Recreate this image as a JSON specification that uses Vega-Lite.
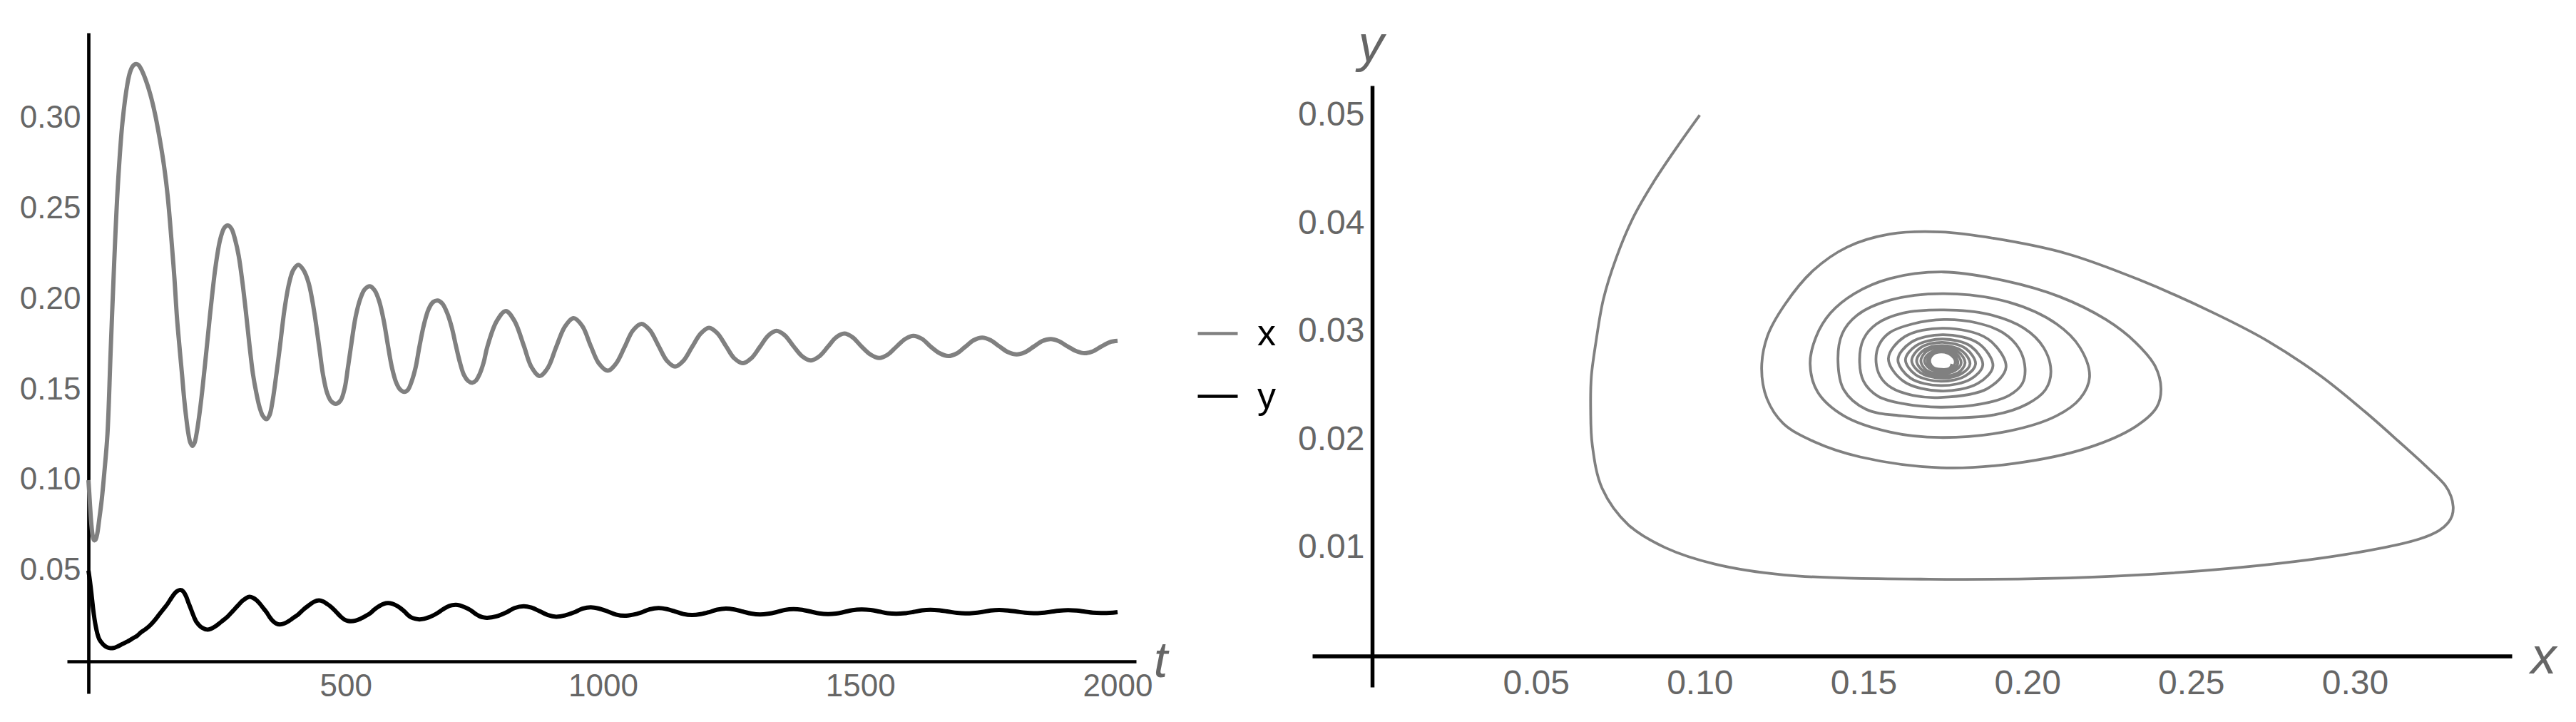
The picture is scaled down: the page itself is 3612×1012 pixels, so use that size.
{
"$schema": "https://vega.github.io/schema/vega-lite/v6.json",
"width": 3612, "height": 1012,
"autosize": {"type": "none"},
"padding": 0,
"background": "white",
"config": {"view": {"stroke": null}, "font": "Liberation Sans",
  "axis": {"grid": false, "ticks": false, "tickSize": 0, "domainColor": "black", "labelColor": "#666666", "labelFont": "Liberation Sans", "titleFont": "Liberation Sans", "titleColor": "#666666", "titleFontStyle": "italic", "titleFontWeight": "normal", "labelFlush": false, "labelOverlap": false}},
"data": {"values": [
{"t":0,"x":0.1000,"y":0.0500},{"t":1.5,"x":0.0934,"y":0.0472},{"t":3,"x":0.0863,"y":0.0440},{"t":4.5,"x":0.0798,"y":0.0406},
{"t":6,"x":0.0745,"y":0.0368},{"t":7.5,"x":0.0706,"y":0.0330},{"t":9,"x":0.0683,"y":0.0290},{"t":10.5,"x":0.0669,"y":0.0258},
{"t":12,"x":0.0667,"y":0.0228},{"t":14,"x":0.0672,"y":0.0195},{"t":17,"x":0.0702,"y":0.0155},{"t":21,"x":0.0783,"y":0.0121},
{"t":26,"x":0.0896,"y":0.0100},{"t":31,"x":0.1046,"y":0.0085},{"t":37,"x":0.1257,"y":0.0075},{"t":43,"x":0.1700,"y":0.0071},
{"t":50,"x":0.2200,"y":0.0073},{"t":57,"x":0.2620,"y":0.0081},{"t":66,"x":0.2975,"y":0.0094},{"t":76,"x":0.3195,"y":0.0108},
{"t":81,"x":0.3257,"y":0.0116},{"t":85,"x":0.3284,"y":0.0123},{"t":89,"x":0.3297,"y":0.0130},{"t":94,"x":0.3300,"y":0.0138},
{"t":98,"x":0.3293,"y":0.0148},{"t":102,"x":0.3275,"y":0.0158},{"t":111,"x":0.3215,"y":0.0176},{"t":120,"x":0.3135,"y":0.0198},
{"t":129,"x":0.3030,"y":0.0226},{"t":138,"x":0.2895,"y":0.0259},{"t":147,"x":0.2735,"y":0.0291},{"t":154,"x":0.2570,"y":0.0317},
{"t":161,"x":0.2340,"y":0.0348},{"t":167,"x":0.2120,"y":0.0372},{"t":172,"x":0.1900,"y":0.0386},{"t":177,"x":0.1735,"y":0.0392},
{"t":182,"x":0.1580,"y":0.0390},{"t":186,"x":0.1450,"y":0.0378},{"t":190,"x":0.1345,"y":0.0356},{"t":194,"x":0.1260,"y":0.0325},
{"t":198,"x":0.1207,"y":0.0296},{"t":202,"x":0.1189,"y":0.0266},{"t":206,"x":0.1205,"y":0.0238},{"t":210,"x":0.1255,"y":0.0215},
{"t":215,"x":0.1350,"y":0.0198},{"t":221,"x":0.1490,"y":0.0184},{"t":230,"x":0.1736,"y":0.0174},{"t":238,"x":0.1960,"y":0.0178},
{"t":247,"x":0.2180,"y":0.0192},{"t":256,"x":0.2330,"y":0.0212},{"t":264,"x":0.2395,"y":0.0230},{"t":271,"x":0.2408,"y":0.0247},
{"t":278,"x":0.2390,"y":0.0268},{"t":285,"x":0.2330,"y":0.0290},{"t":292,"x":0.2240,"y":0.0311},{"t":299,"x":0.2100,"y":0.0332},
{"t":306,"x":0.1930,"y":0.0347},{"t":313,"x":0.1745,"y":0.0355},{"t":320,"x":0.1581,"y":0.0349},{"t":327,"x":0.1472,"y":0.0335},
{"t":333,"x":0.1399,"y":0.0317},{"t":339,"x":0.1355,"y":0.0295},{"t":346,"x":0.1337,"y":0.0270},{"t":352,"x":0.1360,"y":0.0244},
{"t":358,"x":0.1440,"y":0.0222},{"t":365,"x":0.1581,"y":0.0207},{"t":372,"x":0.1735,"y":0.0202},{"t":381,"x":0.1944,"y":0.0208},
{"t":390,"x":0.2089,"y":0.0222},{"t":398,"x":0.2161,"y":0.0238},{"t":408,"x":0.2190,"y":0.0258},{"t":418,"x":0.2161,"y":0.0285},
{"t":428,"x":0.2089,"y":0.0307},{"t":438,"x":0.1944,"y":0.0327},{"t":448,"x":0.1745,"y":0.0335},{"t":456,"x":0.1581,"y":0.0329},
{"t":464,"x":0.1480,"y":0.0315},{"t":472,"x":0.1435,"y":0.0298},{"t":481,"x":0.1422,"y":0.0273},{"t":490,"x":0.1440,"y":0.0246},
{"t":498,"x":0.1508,"y":0.0228},{"t":504,"x":0.1617,"y":0.0222},{"t":510,"x":0.1735,"y":0.0220},{"t":519,"x":0.1900,"y":0.0223},
{"t":528,"x":0.2000,"y":0.0233},{"t":537,"x":0.2055,"y":0.0246},{"t":547,"x":0.2072,"y":0.0263},{"t":556,"x":0.2050,"y":0.0285},
{"t":565,"x":0.1990,"y":0.0303},{"t":574,"x":0.1880,"y":0.0316},{"t":582,"x":0.1745,"y":0.0320},{"t":590,"x":0.1620,"y":0.0317},
{"t":598,"x":0.1540,"y":0.0307},{"t":606,"x":0.1500,"y":0.0293},{"t":614,"x":0.1488,"y":0.0274},{"t":621,"x":0.1500,"y":0.0254},
{"t":628,"x":0.1545,"y":0.0240},{"t":636,"x":0.1625,"y":0.0233},{"t":643,"x":0.1735,"y":0.0230},{"t":652,"x":0.1860,"y":0.0233},
{"t":661,"x":0.1945,"y":0.0241},{"t":670,"x":0.1985,"y":0.0252},{"t":679,"x":0.1993,"y":0.0266},{"t":688,"x":0.1975,"y":0.0284},
{"t":697,"x":0.1925,"y":0.0299},{"t":706,"x":0.1845,"y":0.0308},{"t":714,"x":0.1745,"y":0.0311},{"t":722,"x":0.1650,"y":0.0307},
{"t":730,"x":0.1580,"y":0.0299},{"t":738,"x":0.1548,"y":0.0288},{"t":746,"x":0.1538,"y":0.0274},{"t":753,"x":0.1550,"y":0.0259},
{"t":760,"x":0.1585,"y":0.0248},{"t":768,"x":0.1650,"y":0.0241},{"t":775,"x":0.1735,"y":0.0239},{"t":793,"x":0.1877,"y":0.0247},
{"t":811,"x":0.1935,"y":0.0267},{"t":828,"x":0.1880,"y":0.0293},{"t":846,"x":0.1744,"y":0.0303},{"t":861,"x":0.1625,"y":0.0295},
{"t":877,"x":0.1576,"y":0.0275},{"t":893,"x":0.1622,"y":0.0254},{"t":909,"x":0.1736,"y":0.0245},{"t":926,"x":0.1849,"y":0.0252},
{"t":943,"x":0.1895,"y":0.0268},{"t":960,"x":0.1851,"y":0.0289},{"t":976,"x":0.1743,"y":0.0297},{"t":992,"x":0.1645,"y":0.0290},
{"t":1009,"x":0.1605,"y":0.0274},{"t":1025,"x":0.1643,"y":0.0257},{"t":1042,"x":0.1736,"y":0.0250},{"t":1058,"x":0.1827,"y":0.0256},
{"t":1075,"x":0.1864,"y":0.0269},{"t":1091,"x":0.1829,"y":0.0286},{"t":1108,"x":0.1742,"y":0.0293},{"t":1124,"x":0.1661,"y":0.0287},
{"t":1140,"x":0.1628,"y":0.0274},{"t":1156,"x":0.1659,"y":0.0260},{"t":1173,"x":0.1736,"y":0.0254},{"t":1190,"x":0.1811,"y":0.0259},
{"t":1206,"x":0.1842,"y":0.0270},{"t":1222,"x":0.1813,"y":0.0284},{"t":1239,"x":0.1741,"y":0.0290},{"t":1255,"x":0.1674,"y":0.0285},
{"t":1272,"x":0.1647,"y":0.0273},{"t":1288,"x":0.1673,"y":0.0262},{"t":1305,"x":0.1737,"y":0.0257},{"t":1321,"x":0.1799,"y":0.0261},
{"t":1337,"x":0.1825,"y":0.0270},{"t":1353,"x":0.1801,"y":0.0282},{"t":1370,"x":0.1741,"y":0.0287},{"t":1387,"x":0.1685,"y":0.0283},
{"t":1404,"x":0.1662,"y":0.0273},{"t":1420,"x":0.1684,"y":0.0263},{"t":1437,"x":0.1737,"y":0.0259},{"t":1453,"x":0.1789,"y":0.0262},
{"t":1469,"x":0.1810,"y":0.0271},{"t":1485,"x":0.1790,"y":0.0281},{"t":1502,"x":0.1740,"y":0.0285},{"t":1520,"x":0.1694,"y":0.0282},
{"t":1537,"x":0.1675,"y":0.0273},{"t":1553,"x":0.1693,"y":0.0264},{"t":1570,"x":0.1737,"y":0.0261},{"t":1587,"x":0.1780,"y":0.0264},
{"t":1603,"x":0.1798,"y":0.0271},{"t":1620,"x":0.1781,"y":0.0280},{"t":1636,"x":0.1740,"y":0.0283},{"t":1654,"x":0.1702,"y":0.0280},
{"t":1671,"x":0.1686,"y":0.0273},{"t":1688,"x":0.1701,"y":0.0266},{"t":1704,"x":0.1737,"y":0.0263},{"t":1720,"x":0.1773,"y":0.0265},
{"t":1737,"x":0.1788,"y":0.0271},{"t":1753,"x":0.1774,"y":0.0279},{"t":1770,"x":0.1740,"y":0.0282},{"t":1787,"x":0.1708,"y":0.0279},
{"t":1804,"x":0.1695,"y":0.0273},{"t":1820,"x":0.1707,"y":0.0267},{"t":1837,"x":0.1738,"y":0.0264},{"t":1853,"x":0.1768,"y":0.0266},
{"t":1870,"x":0.1780,"y":0.0272},{"t":1886,"x":0.1768,"y":0.0278},{"t":1903,"x":0.1739,"y":0.0281},{"t":1920,"x":0.1713,"y":0.0279},
{"t":1936,"x":0.1702,"y":0.0273},{"t":1952,"x":0.1712,"y":0.0267},{"t":1968,"x":0.1738,"y":0.0265},{"t":1985,"x":0.1763,"y":0.0266},
{"t":2000,"x":0.1770,"y":0.0270}
]},
"layer": [
  {
    "transform": [{"fold": ["x", "y"], "as": ["series", "value"]}],
    "mark": {"type": "line", "strokeWidth": 6, "interpolate": "catmull-rom"},
    "encoding": {
      "x": {"field": "t", "type": "quantitative",
        "scale": {"domain": [-41.6, 2036], "range": [94, 1593], "nice": false, "zero": false},
        "axis": {"orient": "bottom", "offset": -85, "values": [500, 1000, 1500, 2000], "format": "d",
          "labelFontSize": 44, "labelPadding": 13, "domainWidth": 4.7,
          "title": "t", "titleFontSize": 70, "titleX": 1627, "titleY": 21, "titleAlign": "center", "titleBaseline": "alphabetic"}},
      "y": {"field": "value", "type": "quantitative",
        "scale": {"domain": [-0.01795, 0.3473], "range": [972, 46], "nice": false, "zero": false},
        "axis": {"orient": "left", "offset": -124, "values": [0.05, 0.1, 0.15, 0.2, 0.25, 0.3], "format": ".2f",
          "labelFontSize": 44, "labelPadding": 11, "domainWidth": 4.7, "title": null}},
      "color": {"field": "series", "type": "nominal",
        "scale": {"domain": ["x", "y"], "range": ["#808080", "#000000"]},
        "legend": {"orient": "none", "legendX": 1677, "legendY": 437, "title": null, "padding": 0,
          "symbolType": "stroke", "symbolSize": 3136, "symbolStrokeWidth": 4.7,
          "labelFontSize": 52, "labelColor": "#000000", "labelFont": "Liberation Sans", "labelOffset": 25, "rowPadding": 31}}
    }
  },
  {
    "mark": {"type": "line", "strokeWidth": 3.8, "interpolate": "catmull-rom", "color": "#808080"},
    "encoding": {
      "x": {"field": "x", "type": "quantitative",
        "scale": {"domain": [-0.01829, 0.3479], "range": [1840, 3522], "nice": false, "zero": false},
        "axis": {"orient": "bottom", "offset": -92.5, "values": [0.05, 0.1, 0.15, 0.2, 0.25, 0.3], "format": ".2f",
          "labelFontSize": 48, "labelPadding": 14.5, "domainWidth": 5.5,
          "title": "x", "titleFontSize": 72, "titleX": 3566, "titleY": 23.5, "titleAlign": "center", "titleBaseline": "alphabetic"}},
      "y": {"field": "y", "type": "quantitative",
        "scale": {"domain": [-0.00287, 0.05273], "range": [963, 120], "nice": false, "zero": false},
        "axis": {"orient": "left", "offset": -1924, "values": [0.01, 0.02, 0.03, 0.04, 0.05], "format": ".2f",
          "labelFontSize": 48, "labelPadding": 11, "domainWidth": 5.5,
          "title": "y", "titleAngle": 0, "titleFontSize": 72, "titleX": -2, "titleY": 85, "titleAlign": "center", "titleBaseline": "alphabetic"}},
      "order": {"field": "t", "type": "quantitative"}
    }
  }
],
"resolve": {"scale": {"x": "independent", "y": "independent"}, "axis": {"x": "independent", "y": "independent"}}
}
